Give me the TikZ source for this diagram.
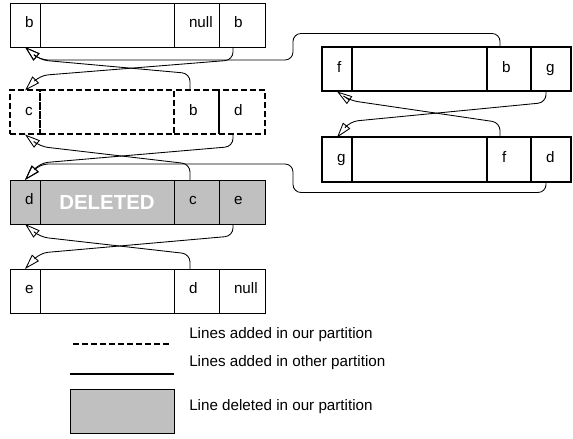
\documentclass[tikz,border=0pt]{standalone}
\usepackage{fontspec}
\setmainfont{Liberation Sans}
\usetikzlibrary{arrows.meta,positioning,calc}
\definecolor{delgray}{RGB}{192,192,192}
\tikzset{
  lcell/.style={rectangle, draw, anchor=west, inner sep=0pt, outer sep=0pt, line width=0.7pt,
                minimum height=33pt, text width=#1, align=left, text height=6pt, text depth=2pt,
                execute at begin node=\hspace*{11.25pt}},
  ltxt/.style={rectangle, draw, anchor=west, inner sep=0pt, outer sep=0pt, line width=0.7pt,
               minimum height=33pt, minimum width=#1},
  ours/.style={line width=1.5pt, dash pattern=on 4.5pt off 2.25pt},
  other/.style={line width=1.5pt},
  gone/.style={fill=delgray},
  lptr/.style={-{Triangle[open,length=11.5pt,width=7pt]}, line width=0.65pt},
}
\begin{document}
\begin{tikzpicture}[x=0.75pt,y=-0.75pt,font=\fontsize{11.4}{13.5}\selectfont]
  \useasboundingbox (0,0) rectangle (573,438);
  % left column
  \node[lcell=22.5pt] (r1id) at (10,25) {b};
  \node[ltxt=100.5pt,right=0pt of r1id] (r1txt) {};
  \node[lcell=33.75pt,right=0pt of r1txt] (r1prv) {null};
  \node[lcell=34.5pt,right=0pt of r1prv] (r1nxt) {b};

  \node[lcell=22.5pt,ours] (r2id) at (10,112.5) {c};
  \node[ltxt=100.5pt,ours,right=0pt of r2id] (r2txt) {};
  \node[lcell=33.75pt,ours,right=0pt of r2txt] (r2prv) {b};
  \node[lcell=34.5pt,ours,right=0pt of r2prv] (r2nxt) {d};

  \node[lcell=22.5pt,gone] (r3id) at (10,202) {d};
  \node[ltxt=100.5pt,gone,right=0pt of r3id,text=white,font=\fontsize{15.3}{18}\selectfont\bfseries] (r3txt) {DELETED};
  \node[lcell=33.75pt,gone,right=0pt of r3txt] (r3prv) {c};
  \node[lcell=34.5pt,gone,right=0pt of r3prv] (r3nxt) {e};

  \node[lcell=22.5pt] (r4id) at (10,291) {e};
  \node[ltxt=100.5pt,right=0pt of r4id] (r4txt) {};
  \node[lcell=33.75pt,right=0pt of r4txt] (r4prv) {d};
  \node[lcell=34.5pt,right=0pt of r4prv] (r4nxt) {null};

  % right column
  \node[lcell=22.5pt,other] (q1id) at (322,69.5) {f};
  \node[ltxt=101.25pt,other,right=0pt of q1id] (q1txt) {};
  \node[lcell=33pt,other,right=0pt of q1txt] (q1prv) {b};
  \node[lcell=30pt,other,right=0pt of q1prv] (q1nxt) {g};

  \node[lcell=22.5pt,other] (q2id) at (322,159.5) {g};
  \node[ltxt=101.25pt,other,right=0pt of q2id] (q2txt) {};
  \node[lcell=33pt,other,right=0pt of q2txt] (q2prv) {f};
  \node[lcell=30pt,other,right=0pt of q2prv] (q2nxt) {d};

  % pointers
  \draw[lptr] ($(r1nxt.south west)+(14,0)$) [rounded corners=6pt] -- ++(0,13) -- ($(r2id.north)+(15,-15)$) [sharp corners] -- (r2id.north);
  \draw[lptr] ($(r2prv.north west)+(16,0)$) [rounded corners=6pt] -- ++(0,-17) -- ($(r1id.south)+(15,13)$) [sharp corners] -- (r1id.south);
  \draw[lptr] ($(r2nxt.south west)+(14,0)$) [rounded corners=6pt] -- ++(0,12) -- ($(r3id.north)+(15,-17)$) [sharp corners] -- (r3id.north);
  \draw[lptr] ($(r3prv.north west)+(16,0)$) [rounded corners=6pt] -- ++(0,-16) -- ($(r2id.south)+(15,12)$) [sharp corners] -- (r2id.south);
  \draw[lptr] ($(r3nxt.south west)+(14,0)$) [rounded corners=6pt] -- ++(0,12) -- ($(r4id.north)+(15,-16)$) [sharp corners] -- (r4id.north);
  \draw[lptr] ($(r4prv.north west)+(16,0)$) [rounded corners=6pt] -- ++(0,-15) -- ($(r3id.south)+(15,13)$) [sharp corners] -- (r3id.south);
  \draw[lptr] ($(q1nxt.south west)+(15,0)$) [rounded corners=6pt] -- ++(0,11) -- ($(q2id.north)+(13,-16)$) [sharp corners] -- (q2id.north);
  \draw[lptr] ($(q2prv.north west)+(13,0)$) [rounded corners=6pt] -- ++(0,-15) -- ($(q1id.south)+(13,9)$) [sharp corners] -- (q1id.south);
  \draw[lptr] ($(q1prv.north west)+(13,0)$) [rounded corners=6pt] -- ++(0,-14) -| ($(r1nxt.south east)+(28,13)$) -- ($(r1id.south)+(15,13)$) [sharp corners] -- (r1id.south);
  \draw[lptr] ($(q2nxt.south west)+(15,0)$) [rounded corners=6pt] -- ++(0,11) -| ($(r3nxt.north east)+(28,-16)$) -- ($(r3id.north)+(15,-16)$) [sharp corners] -- (r3id.north);

  % legend
  \node[anchor=west,inner sep=0pt] (k1) at (189,335) {Lines added in our partition};
  \node[anchor=west,inner sep=0pt] (k2) at (189,363) {Lines added in other partition};
  \node[anchor=west,inner sep=0pt] (k3) at (189,407) {Line deleted in our partition};
  \draw[ours] (73,344) -- (170,344);
  \draw[other] (70,374) -- (174,374);
  \draw[gone,line width=0.7pt] (70,389) rectangle (174,433);
\end{tikzpicture}
\end{document}
